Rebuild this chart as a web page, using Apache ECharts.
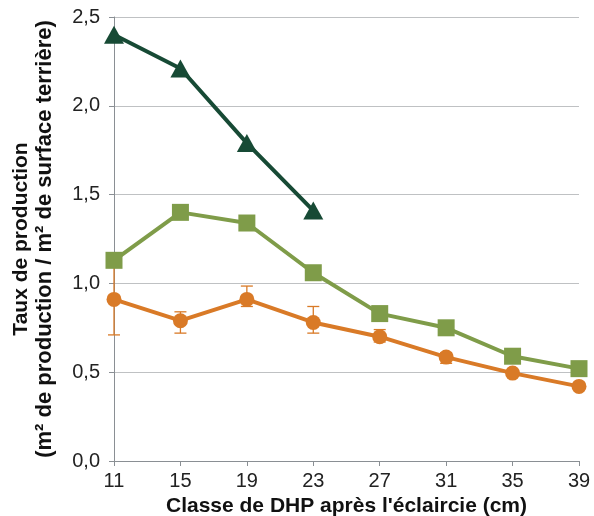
<!DOCTYPE html>
<html>
<head>
<meta charset="utf-8">
<script src="https://cdn.jsdelivr.net/npm/echarts@6/dist/echarts.min.js"></script>
<style>
html,body{margin:0;padding:0;background:#fff;}
#c{width:594px;height:516px;}
</style>
</head>
<body>
<div id="c"></div>
<script>
const categories = ['11','15','19','23','27','31','35','39'];
const triangleSeries = [2.40, 2.21, 1.79, 1.41, null, null, null, null];
const squareSeries = [1.13, 1.40, 1.34, 1.06, 0.83, 0.75, 0.59, 0.52];
const circleSeries = [0.91, 0.79, 0.91, 0.78, 0.70, 0.585, 0.495, 0.42];
const circleErrLow = [0.71, 0.72, 0.87, 0.72, 0.67, 0.55, 0.49, 0.41];
const circleErrHigh = [1.09, 0.84, 0.985, 0.87, 0.74, 0.61, 0.50, 0.43];
const squareErrLow = [1.12, 1.39, 1.30, 1.05, 0.82, 0.74, 0.58, 0.51];
const squareErrHigh = [1.14, 1.41, 1.36, 1.07, 0.84, 0.76, 0.60, 0.53];

const cGreenDark = '#174a35';
const cOlive = '#7f9c49';
const cOrange = '#d97a27';

function errSeries(low, high, color) {
  return {
    type: 'custom',
    z: 1,
    data: categories.map((c, i) => [i, low[i], high[i]]),
    renderItem: function (params, api) {
      const i = api.value(0);
      const lo = api.coord([i, api.value(1)]);
      const hi = api.coord([i, api.value(2)]);
      const w = 6;
      const st = { stroke: color, lineWidth: 1.3 };
      return {
        type: 'group',
        children: [
          { type: 'line', shape: { x1: lo[0], y1: lo[1], x2: hi[0], y2: hi[1] }, style: st },
          { type: 'line', shape: { x1: lo[0] - w, y1: lo[1], x2: lo[0] + w, y2: lo[1] }, style: st },
          { type: 'line', shape: { x1: hi[0] - w, y1: hi[1], x2: hi[0] + w, y2: hi[1] }, style: st }
        ]
      };
    }
  };
}

const chart = echarts.init(document.getElementById('c'), null, { renderer: 'canvas' });
const fontFam = '"Liberation Sans", Arial, Helvetica, sans-serif';
chart.setOption({
  animation: false,
  backgroundColor: '#fff',
  textStyle: { fontFamily: fontFam },
  grid: { left: 114, right: 15, top: 17, bottom: 55, containLabel: false, outerBoundsMode: 'none' },
  xAxis: {
    type: 'category',
    data: categories,
    boundaryGap: false,
    axisLine: { lineStyle: { color: '#8a8f94', width: 1 } },
    axisTick: { show: true, length: 5, lineStyle: { color: '#8a8f94' } },
    axisLabel: { color: '#222', fontSize: 20, margin: 10, fontFamily: fontFam },
    splitLine: { show: false },
    name: "Classe de DHP après l'éclaircie (cm)",
    nameLocation: 'middle',
    nameGap: 35,
    nameTextStyle: { color: '#111', fontSize: 21, fontWeight: 'bold', fontFamily: fontFam }
  },
  yAxis: {
    type: 'value',
    min: 0, max: 2.5, interval: 0.5,
    axisLine: { show: true, lineStyle: { color: '#8a8f94', width: 1 } },
    axisTick: { show: true, length: 5, lineStyle: { color: '#8a8f94' } },
    axisLabel: {
      color: '#222', fontSize: 20, margin: 14, fontFamily: fontFam,
      formatter: v => v.toFixed(1).replace('.', ',')
    },
    splitLine: { show: true, lineStyle: { color: '#bfc1c3', width: 1 } },
    name: '{a|Taux de production}\n{b|(m² de production / m² de surface terrière)}',
    nameLocation: 'middle',
    nameGap: 57,
    nameRotate: 90,
    nameTextStyle: {
      color: '#111', fontSize: 21, fontWeight: 'bold', lineHeight: 24, fontFamily: fontFam,
      rich: {
        a: { fontSize: 21, fontWeight: 'bold', lineHeight: 24, color: '#111', fontFamily: fontFam },
        b: { fontSize: 22, fontWeight: 'bold', lineHeight: 24, color: '#111', fontFamily: fontFam }
      }
    }
  },
  series: [
    errSeries(circleErrLow, circleErrHigh, cOrange),
    errSeries(squareErrLow, squareErrHigh, '#5d7335'),
    {
      type: 'line', data: circleSeries, symbol: 'circle', symbolSize: 15,
      lineStyle: { color: cOrange, width: 4 }, itemStyle: { color: cOrange }, z: 3
    },
    {
      type: 'line', data: squareSeries, symbol: 'rect', symbolSize: 17,
      lineStyle: { color: cOlive, width: 4 }, itemStyle: { color: cOlive }, z: 4
    },
    {
      type: 'line', data: triangleSeries, symbol: 'triangle', symbolSize: [20, 18],
      connectNulls: false,
      lineStyle: { color: cGreenDark, width: 4 }, itemStyle: { color: cGreenDark }, z: 5
    }
  ]
});
</script>
</body>
</html>
